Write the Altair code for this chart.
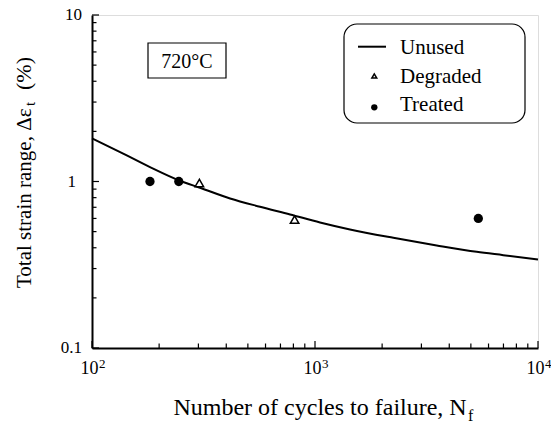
import altair as alt
import pandas as pd

# ---- data ----
unused_N = [100, 138, 182, 248, 305, 416, 567, 773, 1053, 1435, 2245, 3514, 5311, 6988, 10000]
unused_S = [1.815, 1.47, 1.22, 1.01, 0.917, 0.791, 0.705, 0.634, 0.5675, 0.5153, 0.4589, 0.413, 0.378, 0.361, 0.340]
degraded_N = [303, 810]
degraded_S = [0.98, 0.59]
treated_N = [182, 245, 5400]
treated_S = [1.0, 1.0, 0.60]

y_major = [0.1, 1, 10]
y_minor = [0.2, 0.3, 0.4, 0.5, 0.6, 0.7, 0.8, 0.9, 2, 3, 4, 5, 6, 7, 8, 9]
x_major = [100, 1000, 10000]
x_minor = [200, 300, 400, 500, 600, 700, 800, 900, 2000, 3000, 4000, 5000, 6000, 7000, 8000, 9000]
x_tick_exp = ["2", "3", "4"]
y_tick_text = ["0.1", "1", "10"]
legend_labels = ["Unused", "Degraded", "Treated"]
temp_label = "720°C"
x_title = "Number of cycles to failure, N"
x_title_sub = "f"
y_title_a = "Total strain range, Δε"
y_title_sub = "t"
y_title_b = "(%)"

W, H = 446, 333
FONT = "Liberation Serif"

xscale = alt.Scale(type="log", domain=[100, 10000], nice=False)
yscale = alt.Scale(type="log", domain=[0.1, 10], nice=False)
xaxis = alt.Axis(title="", labels=False, ticks=False, grid=False, domain=True,
                 domainColor="black", domainWidth=2)
yaxis = alt.Axis(title="", labels=False, ticks=False, grid=False, domain=True,
                 domainColor="black", domainWidth=2)


def X(f):
    return alt.X(f, type="quantitative", scale=xscale, axis=xaxis)


def Y(f):
    return alt.Y(f, type="quantitative", scale=yscale, axis=yaxis)


def one():
    return alt.Chart(pd.DataFrame({"a": [0]}))


unused_df = pd.DataFrame({"N": unused_N, "S": unused_S})
deg_df = pd.DataFrame({"N": degraded_N, "S": degraded_S})
tr_df = pd.DataFrame({"N": treated_N, "S": treated_S})

line = alt.Chart(unused_df).mark_line(color="black", strokeWidth=2, interpolate="monotone").encode(
    x=X("N"), y=Y("S"))
deg = alt.Chart(deg_df).mark_point(shape="triangle-up", size=72, fill="white", fillOpacity=1,
                                   stroke="black", strokeWidth=1.5, opacity=1).encode(x=X("N"), y=Y("S"))
tr = alt.Chart(tr_df).mark_point(shape="circle", size=86, filled=True, color="black",
                                 opacity=1).encode(x=X("N"), y=Y("S"))

# inward ticks
y_maj = alt.Chart(pd.DataFrame({"S": y_major})).mark_rule(color="black", strokeWidth=1.2).encode(
    y=Y("S"), x=alt.value(0), x2=alt.value(7))
y_min = alt.Chart(pd.DataFrame({"S": y_minor})).mark_rule(color="black", strokeWidth=1.2).encode(
    y=Y("S"), x=alt.value(0), x2=alt.value(4.5))
x_maj = alt.Chart(pd.DataFrame({"N": x_major})).mark_rule(color="black", strokeWidth=1.2).encode(
    x=X("N"), y=alt.value(H), y2=alt.value(H - 7))
x_min = alt.Chart(pd.DataFrame({"N": x_minor})).mark_rule(color="black", strokeWidth=1.2).encode(
    x=X("N"), y=alt.value(H), y2=alt.value(H - 4.5))

# tick labels
ylab_df = pd.DataFrame({"S": y_major, "t": y_tick_text})
ylab_a = alt.Chart(ylab_df).transform_filter("datum.S != 1").mark_text(
    align="right", baseline="middle", font=FONT, fontSize=17, color="black").encode(
    y=Y("S"), x=alt.value(-10), text="t:N")
ylab_b = alt.Chart(ylab_df).transform_filter("datum.S == 1").mark_text(
    align="right", baseline="middle", font=FONT, fontSize=17, color="black").encode(
    y=Y("S"), x=alt.value(-16), text="t:N")

xlab_df = pd.DataFrame({"N": x_major, "e": x_tick_exp})
xlab_base = alt.Chart(xlab_df).mark_text(
    align="right", baseline="alphabetic", dx=6.5, font=FONT, fontSize=18, color="black").encode(
    x=X("N"), y=alt.value(H + 26), text=alt.value("10"))
xlab_exp = alt.Chart(xlab_df).mark_text(
    align="left", baseline="alphabetic", dx=7, font=FONT, fontSize=13, color="black").encode(
    x=X("N"), y=alt.value(H + 20), text="e:N")

# axis titles
xt = one().mark_text(
    align="right", baseline="alphabetic", font=FONT, fontSize=24, color="black").encode(
    x=alt.value(374.7), y=alt.value(400), text=alt.value(x_title))
xt_sub = one().mark_text(
    align="left", baseline="alphabetic", font=FONT, fontSize=16, color="black").encode(
    x=alt.value(376), y=alt.value(406), text=alt.value(x_title_sub))
yt_a = one().mark_text(
    align="left", baseline="alphabetic", angle=270, font=FONT, fontSize=21, color="black").encode(
    x=alt.value(-61), y=alt.value(273), text=alt.value(y_title_a))
yt_sub = one().mark_text(
    align="center", baseline="alphabetic", angle=270, font=FONT, fontSize=15, color="black").encode(
    x=alt.value(-57), y=alt.value(89), text=alt.value(y_title_sub))
yt_b = one().mark_text(
    align="right", baseline="alphabetic", angle=270, font=FONT, fontSize=22, color="black").encode(
    x=alt.value(-61), y=alt.value(42), text=alt.value(y_title_b))

# temperature box
tbox = one().mark_rect(fill="white", stroke="black", strokeWidth=1.2).encode(
    x=alt.value(56), x2=alt.value(134), y=alt.value(28), y2=alt.value(63))
ttext = one().mark_text(
    align="center", baseline="alphabetic", font=FONT, fontSize=20, color="black").encode(
    x=alt.value(95), y=alt.value(53.3), text=alt.value(temp_label))

# legend
lbox = one().mark_rect(
    fill="white", stroke="black", strokeWidth=1.2, cornerRadius=13).encode(
    x=alt.value(252), x2=alt.value(433), y=alt.value(9), y2=alt.value(108))
lline = one().mark_rule(color="black", strokeWidth=2).encode(
    x=alt.value(266), x2=alt.value(294), y=alt.value(31.7))
ltri = one().mark_point(
    shape="triangle-up", size=24, fill="white", fillOpacity=1, stroke="black", strokeWidth=1.5, opacity=1).encode(
    x=alt.value(282.3), y=alt.value(61))
lcirc = one().mark_point(
    shape="circle", size=40, filled=True, color="black", opacity=1).encode(
    x=alt.value(282.3), y=alt.value(92.3))
lt = []
for lab, yy in zip(legend_labels, [39, 67.7, 96.4]):
    lt.append(one().mark_text(
        align="left", baseline="alphabetic", font=FONT, fontSize=21, color="black").encode(
        x=alt.value(308), y=alt.value(yy), text=alt.value(lab)))

chart = alt.layer(
    line, y_maj, y_min, x_maj, x_min, deg, tr,
    ylab_a, ylab_b, xlab_base, xlab_exp,
    xt, xt_sub, yt_a, yt_sub, yt_b,
    tbox, ttext, lbox, lline, ltri, lcirc, *lt
).properties(
    width=W, height=H,
    autosize=alt.AutoSizeParams(type="none"),
    padding={"left": 84, "top": 7, "right": 13, "bottom": 80},
).configure_view(stroke="black", strokeWidth=1.5).configure(background="white")

chart.save("out.html", embed_options={"renderer": "svg", "actions": False})
